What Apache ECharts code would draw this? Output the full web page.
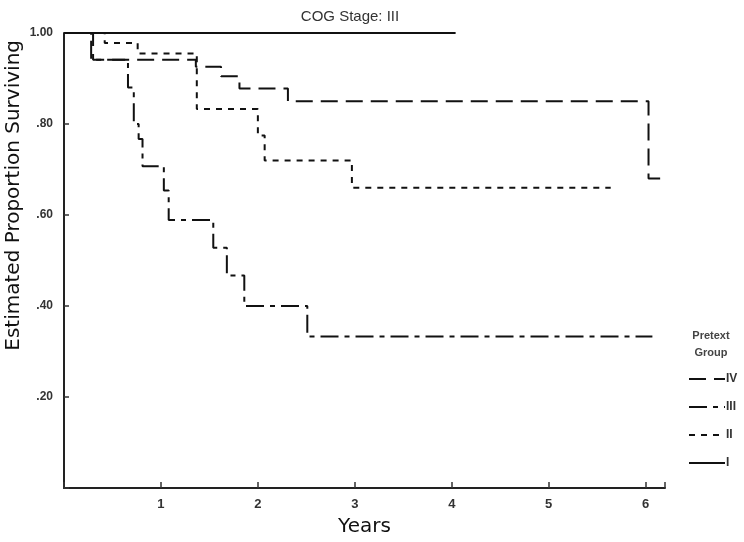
<!DOCTYPE html>
<html><head><meta charset="utf-8">
<script src="https://cdn.jsdelivr.net/npm/echarts@6/dist/echarts.min.js"></script>
<style>html,body{margin:0;padding:0;background:#fff}#c{width:744px;height:542px}</style>
</head><body><div id="c"></div>
<script>
// Kaplan-Meier step curves (time in years, estimated proportion surviving)
const groups = ['IV', 'III', 'II', 'I'];
const timesIV = [0, 0.30, 1.36, 1.62, 1.81, 2.31, 6.03, 6.15];
const survIV  = [1.00, 0.941, 0.926, 0.905, 0.878, 0.850, 0.680, 0.680];
const timesIII = [0, 0.28, 0.66, 0.72, 0.77, 0.81, 1.03, 1.08, 1.54, 1.68, 1.86, 2.51, 6.07];
const survIII  = [1.00, 0.941, 0.880, 0.800, 0.767, 0.707, 0.654, 0.589, 0.528, 0.467, 0.400, 0.333, 0.333];
const timesII = [0, 0.42, 0.76, 1.37, 2.00, 2.07, 2.97, 5.64];
const survII  = [1.00, 0.978, 0.955, 0.833, 0.775, 0.720, 0.660, 0.660];
const timesI = [0, 4.04];
const survI  = [1.00, 1.00];
const xTickLabels = ['1', '2', '3', '4', '5', '6'];
const yTickLabels = ['.20', '.40', '.60', '.80', '1.00'];

const pair = (t, s) => t.map((v, i) => [v, s[i]]);
const dashes = { IV: [17, 8], III: [18, 6, 5, 6], II: [6, 6], I: 'solid' };
const dataBy = { IV: pair(timesIV, survIV), III: pair(timesIII, survIII), II: pair(timesII, survII), I: pair(timesI, survI) };

const chart = echarts.init(document.getElementById('c'));
chart.setOption({
  animation: false,
  backgroundColor: '#fff',
  title: [
    { text: 'COG Stage: III', left: 345, top: 4, textAlign: 'center',
      textStyle: { fontFamily: 'Liberation Sans', fontSize: 15, fontWeight: 'normal', color: '#333' } },
    { text: 'Pretext\nGroup', left: 706, top: 322, textAlign: 'center',
      textStyle: { fontFamily: 'Liberation Sans', fontSize: 11, fontWeight: 'bold', color: '#444', lineHeight: 17 } }
  ],
  grid: { left: 64, top: 33, right: 79, bottom: 44 },
  legend: {
    data: groups, orient: 'vertical', left: 683, top: 368, itemGap: 16,
    itemWidth: 36, itemHeight: 10,
    itemStyle: { opacity: 0 },
    textStyle: { fontFamily: 'Liberation Sans', fontSize: 12, fontWeight: 'bold', color: '#333', padding: [0, 0, 0, -4] }
  },
  xAxis: {
    type: 'value', min: 0, max: 6.2, interval: 1,
    axisLine: { lineStyle: { color: '#222', width: 2 } },
    axisTick: { inside: true, length: 6, lineStyle: { color: '#333', width: 1.5 } },
    axisLabel: {
      margin: 10, fontFamily: 'Liberation Sans', fontSize: 13, fontWeight: 'bold', color: '#333',
      formatter: v => (v >= 1 && v <= 6 && Number.isInteger(v)) ? xTickLabels[v - 1] : ''
    },
    splitLine: { show: false },
    name: 'Years', nameLocation: 'middle', nameGap: 29,
    nameTextStyle: { fontFamily: 'DejaVu Sans', fontSize: 20, color: '#111' }
  },
  yAxis: {
    type: 'value', min: 0, max: 1, interval: 0.2,
    axisLine: { show: true, lineStyle: { color: '#222', width: 2 } },
    axisTick: { show: true, inside: true, length: 5, lineStyle: { color: '#333', width: 1.5 } },
    axisLabel: {
      margin: 11, fontFamily: 'Liberation Sans', fontSize: 12, fontWeight: 'bold', color: '#333',
      formatter: v => { const i = Math.round(v * 5) - 1; return i >= 0 ? yTickLabels[i] : ''; }
    },
    splitLine: { show: false }
  },
  graphic: [
    { type: 'text', left: 4, top: 40, rotation: Math.PI / 2,
      style: { text: 'Estimated Proportion Surviving', fontFamily: 'DejaVu Sans', fontSize: 20, fill: '#111' } }
  ],
  series: groups.map(g => ({
    name: g, type: 'line', step: 'end', symbol: 'none', data: dataBy[g],
    lineStyle: { color: '#111', width: 2, type: dashes[g] },
    z: g === 'I' ? 1 : 2
  }))
});
</script></body></html>
